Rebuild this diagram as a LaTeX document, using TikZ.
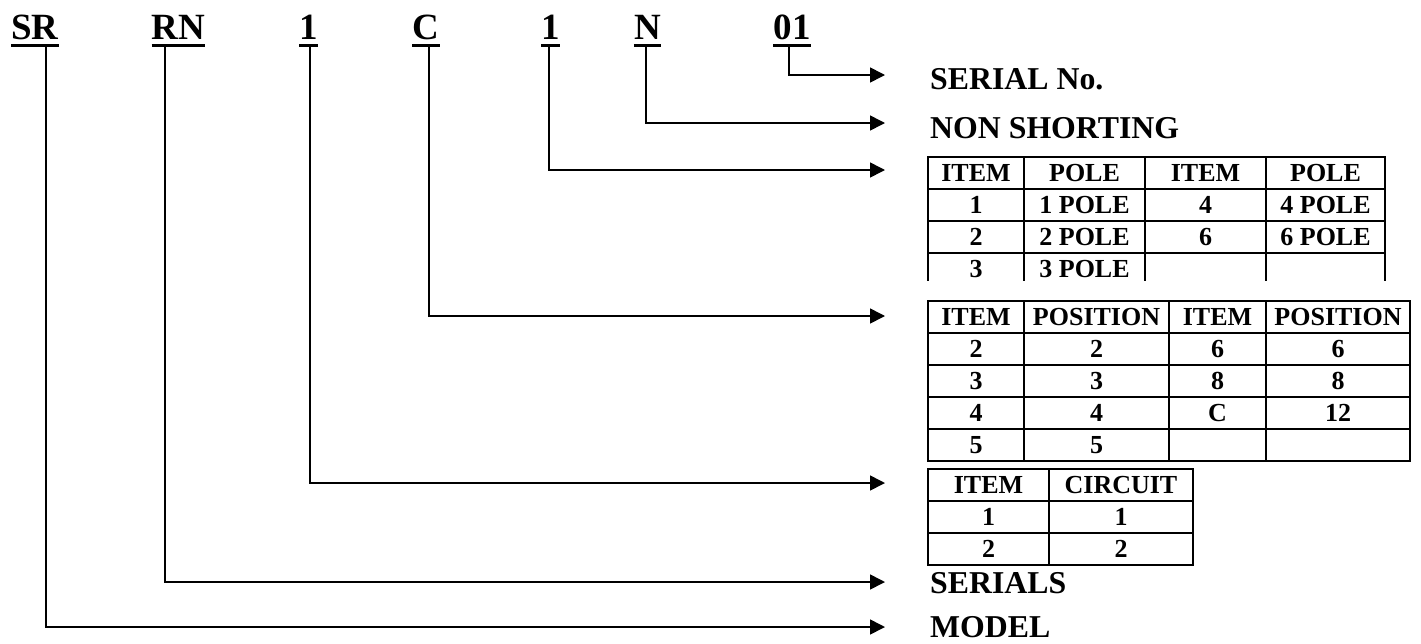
\documentclass[tikz,border=0pt]{standalone}
\usepackage{fontspec}
\setmainfont{Liberation Serif}
\usetikzlibrary{arrows.meta}
\begin{document}
\begin{tikzpicture}[x=1pt,y=-1pt,
  codetxt/.style={font=\fontsize{37}{37}\selectfont\bfseries, inner sep=0pt, anchor=base},
  labtxt/.style={font=\fontsize{31.8}{32}\selectfont\bfseries, inner sep=0pt, anchor=base west},
  celltxt/.style={font=\fontsize{26}{26}\selectfont\bfseries, inner sep=0pt},
  uline/.style={line width=3pt},
  conn/.style={line width=1.6pt, -{Triangle[length=15pt,width=15pt]}},
  gridline/.style={line width=2pt, line cap=rect},
]
\useasboundingbox (0,0) rectangle (1421,643);

% code letters
\node[codetxt] (sr) at (35,39) {SR};
\node[codetxt] (rn) at (178.5,39) {RN};
\node[codetxt] (ca) at (308.5,39) {1};
\node[codetxt] (cb) at (426,39) {C};
\node[codetxt] (cc) at (550.5,39) {1};
\node[codetxt] (cd) at (647.5,39) {N};
\node[codetxt] (ce) at (792,39) {01};
\foreach \n in {sr,rn,ca,cb,cc,cd,ce}
  \draw[uline] ([yshift=-6.5pt]\n.base west) -- ([yshift=-6.5pt]\n.base east);

% drop points
\coordinate (srd) at (46,47);
\coordinate (rnd) at (165,47);
\coordinate (cad) at (310,47);
\coordinate (cbd) at (429,47);
\coordinate (ccd) at (549,47);
\coordinate (cdd) at (646,47);
\coordinate (ced) at (789,47);

% arrow tips
\coordinate (tmodel) at (885,627);
\coordinate (tserials) at (885,582);
\coordinate (tcircuit) at (885,483);
\coordinate (tposition) at (885,316);
\coordinate (tpole) at (885,170);
\coordinate (tnonsh) at (885,123);
\coordinate (tserno) at (885,75);

\draw[conn] (srd) |- (tmodel);
\draw[conn] (rnd) |- (tserials);
\draw[conn] (cad) |- (tcircuit);
\draw[conn] (cbd) |- (tposition);
\draw[conn] (ccd) |- (tpole);
\draw[conn] (cdd) |- (tnonsh);
\draw[conn] (ced) |- (tserno);

% text labels
\node[labtxt] (serno) at (930,89) {SERIAL No.};
\node[labtxt] (nonsh) at (930,138) {NON SHORTING};
\node[labtxt] (serials) at (930,593) {SERIALS};
\node[labtxt] (model) at (930,637) {MODEL};

% table 1: poles (open bottom)
\foreach \yy in {157,189,221,253} \draw[gridline] (928,\yy) -- (1385,\yy);
\foreach \xx in {928,1024,1145,1266,1385} \draw[gridline] (\xx,157) -- (\xx,280);
\foreach \x/\y/\t/\n in {976/173/{ITEM}/pa, 1084.5/173/{POLE}/pb, 1205.5/173/{ITEM}/pc, 1325.5/173/{POLE}/pd,
  976/205/{1}/pe, 1084.5/205/{1 POLE}/pf, 1205.5/205/{4}/pg, 1325.5/205/{4 POLE}/ph,
  976/237/{2}/pi, 1084.5/237/{2 POLE}/pj, 1205.5/237/{6}/pk, 1325.5/237/{6 POLE}/pl,
  976/269/{3}/pm, 1084.5/269/{3 POLE}/pn}
  \node[celltxt] (\n) at (\x,\y) {\t};

% table 2: positions
\foreach \yy in {301,333,365,397,429,461} \draw[gridline] (928,\yy) -- (1410,\yy);
\foreach \xx in {928,1024,1169,1266,1410} \draw[gridline] (\xx,301) -- (\xx,461);
\foreach \x/\y/\t/\n in {976/317/{ITEM}/qa, 1096.5/317/{POSITION}/qb, 1217.5/317/{ITEM}/qc, 1338/317/{POSITION}/qd,
  976/349/{2}/qe, 1096.5/349/{2}/qf, 1217.5/349/{6}/qg, 1338/349/{6}/qh,
  976/381/{3}/qi, 1096.5/381/{3}/qj, 1217.5/381/{8}/qk, 1338/381/{8}/ql,
  976/413/{4}/qm, 1096.5/413/{4}/qn, 1217.5/413/{C}/qo, 1338/413/{12}/qp,
  976/445/{5}/qq, 1096.5/445/{5}/qr}
  \node[celltxt] (\n) at (\x,\y) {\t};

% table 3: circuits
\foreach \yy in {469,501,533,565} \draw[gridline] (928,\yy) -- (1193,\yy);
\foreach \xx in {928,1049,1193} \draw[gridline] (\xx,469) -- (\xx,565);
\foreach \x/\y/\t/\n in {988.5/485/{ITEM}/ra, 1121/485/{CIRCUIT}/rb,
  988.5/517/{1}/rc, 1121/517/{1}/rd,
  988.5/549/{2}/re, 1121/549/{2}/rf}
  \node[celltxt] (\n) at (\x,\y) {\t};
\end{tikzpicture}
\end{document}
